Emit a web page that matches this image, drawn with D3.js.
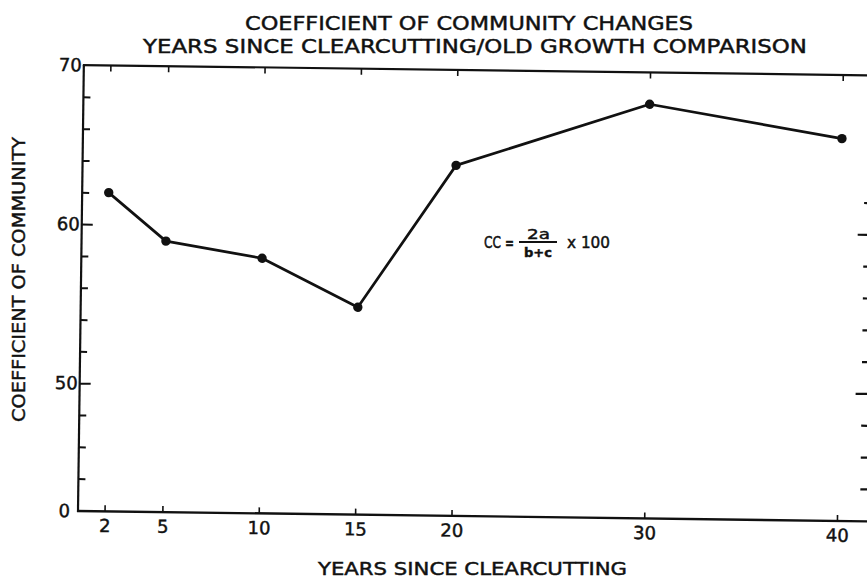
<!DOCTYPE html>
<html>
<head>
<meta charset="utf-8">
<script src="https://cdn.jsdelivr.net/npm/d3@7/dist/d3.min.js"></script>
<style>
  html, body { margin: 0; padding: 0; background: #fff; }
  svg { display: block; }
  text { font-family: "DejaVu Sans", sans-serif; fill: #111; stroke: #111; stroke-width: 0.45px; }
</style>
</head>
<body>
<svg id="chart" width="867" height="585"></svg>
<script>
// Coefficient of community by stand age
const years = [2, 5, 10, 15, 20, 30, 40];
const coefficient = [62, 59, 58, 55, 64, 68, 66];

// Axis ticks
const xTicks = [2, 5, 10, 15, 20, 30, 40];
const yTicks = [0, 44, 46, 48, 50, 52, 54, 56, 58, 60, 62, 64, 66, 68, 70];
const yLabelled = [0, 50, 60, 70];
const yMajor = [50, 60];
const rightTicks = [44, 46, 48, 50, 52, 54, 56, 58, 60, 62];

const titleLines = ["COEFFICIENT OF COMMUNITY CHANGES",
                    "YEARS SINCE CLEARCUTTING/OLD GROWTH COMPARISON"];
const xTitle = "YEARS SINCE CLEARCUTTING";
const yTitle = "COEFFICIENT OF COMMUNITY";

const ink = "#111";
const svg = d3.select("#chart");

// Plot frame geometry
const frameLeft = 78, frameBottom = 511, frameTop = 65, frameRightEnd = 880, rightAxisX = 869;

const x = d3.scaleLinear().domain([0, 40]).range([66, 837]);
// broken axis: 0 sits one tick below 44
const y = d3.scaleLinear().domain([0, 44, 70]).range([frameBottom, 478.6, frameTop]);

const plot = svg.append("g").attr("transform", `rotate(0.75, ${frameLeft}, ${frameBottom})`);

// frame lines
plot.append("line").attr("x1", frameLeft).attr("x2", frameLeft).attr("y1", frameBottom + 1).attr("y2", frameTop)
  .attr("stroke", ink).attr("stroke-width", 2.2);
plot.append("line").attr("x1", frameLeft - 1).attr("x2", frameRightEnd).attr("y1", frameBottom).attr("y2", frameBottom)
  .attr("stroke", ink).attr("stroke-width", 2.4);
plot.append("line").attr("x1", frameLeft - 1).attr("x2", frameRightEnd).attr("y1", frameTop).attr("y2", frameTop)
  .attr("stroke", ink).attr("stroke-width", 2.2);

// bottom axis: ticks point up into the plot
const xAxis = plot.append("g").attr("transform", `translate(0,${frameBottom})`)
  .call(d3.axisBottom(x).tickValues(xTicks).tickSize(-6).tickPadding(8));
xAxis.select(".domain").remove();
xAxis.selectAll("line").attr("stroke", ink).attr("stroke-width", 1.6);
xAxis.selectAll("text").style("font-size", "18px").style("font-family", "DejaVu Sans, sans-serif")
  .attr("fill", ink).attr("stroke", ink).attr("stroke-width", 0.45);

// top frame ticks point down
const xTop = plot.append("g").attr("transform", `translate(0,${frameTop})`)
  .call(d3.axisTop(x).tickValues(xTicks).tickSize(-6).tickFormat(""));
xTop.select(".domain").remove();
xTop.selectAll("line").attr("stroke", ink).attr("stroke-width", 1.6);

// left axis: ticks point right into the plot
const yAxis = plot.append("g").attr("transform", `translate(${frameLeft},0)`)
  .call(d3.axisLeft(y).tickValues(yTicks).tickSize(-7).tickPadding(3)
    .tickFormat(d => yLabelled.includes(d) ? String(d) : ""));
yAxis.select(".domain").remove();
yAxis.selectAll(".tick line")
  .attr("stroke", ink).attr("stroke-width", 2)
  .attr("x2", d => yMajor.includes(d) ? 11 : 7)
  .attr("display", d => (d === 0 || d === 70) ? "none" : null);
yAxis.selectAll(".tick text")
  .style("font-size", "18px").style("font-family", "DejaVu Sans, sans-serif")
  .attr("fill", ink).attr("stroke", ink).attr("stroke-width", 0.45)
  .attr("x", d => d === 0 ? -8 : -2);

// right axis ticks point left; the axis line itself runs just past the page edge
const yRight = plot.append("g").attr("transform", `translate(${rightAxisX},0)`)
  .call(d3.axisRight(y).tickValues(rightTicks).tickSize(-6).tickFormat(""));
yRight.select(".domain").remove();
yRight.selectAll(".tick line").attr("stroke", ink).attr("stroke-width", 2.2)
  .attr("x2", d => yMajor.includes(d) ? -15 : -9);

// data line and points
const pts = years.map((yr, i) => [yr, coefficient[i]]);
plot.append("path")
  .datum(pts)
  .attr("fill", "none").attr("stroke", ink).attr("stroke-width", 2.7)
  .attr("stroke-linejoin", "round")
  .attr("d", d3.line().x(d => x(d[0])).y(d => y(d[1])));
plot.selectAll("circle.pt").data(pts).join("circle")
  .attr("class", "pt")
  .attr("cx", d => x(d[0])).attr("cy", d => y(d[1])).attr("r", 4.7)
  .attr("fill", ink);

// titles
svg.append("text").attr("x", 245).attr("y", 30).attr("textLength", 448)
  .attr("lengthAdjust", "spacingAndGlyphs").style("font-size", "19px").text(titleLines[0]);
svg.append("text").attr("x", 143).attr("y", 53).attr("textLength", 664)
  .attr("lengthAdjust", "spacingAndGlyphs").style("font-size", "19px").text(titleLines[1]);

// axis titles
svg.append("text").attr("x", 318).attr("y", 575).attr("textLength", 309)
  .attr("lengthAdjust", "spacingAndGlyphs").style("font-size", "18px").text(xTitle);
svg.append("text").attr("transform", "translate(25,422) rotate(-90)")
  .attr("textLength", 285).attr("lengthAdjust", "spacingAndGlyphs")
  .style("font-size", "18px").text(yTitle);

// formula annotation
const f = svg.append("g");
f.append("text").attr("x", 484).attr("y", 248).attr("textLength", 17)
  .attr("lengthAdjust", "spacingAndGlyphs").style("font-size", "15px").text("CC");
f.append("text").attr("x", 505).attr("y", 248).attr("textLength", 9)
  .attr("lengthAdjust", "spacingAndGlyphs").style("font-size", "15px").style("font-weight", "bold").text("=");
f.append("line").attr("x1", 519).attr("x2", 557).attr("y1", 242).attr("y2", 242)
  .attr("stroke", ink).attr("stroke-width", 1.8);
f.append("text").attr("x", 538.5).attr("y", 238.5).attr("text-anchor", "middle")
  .attr("textLength", 23).attr("lengthAdjust", "spacingAndGlyphs")
  .style("font-size", "14px").text("2a");
f.append("text").attr("x", 538).attr("y", 257).attr("text-anchor", "middle")
  .attr("textLength", 28).attr("lengthAdjust", "spacingAndGlyphs")
  .style("font-size", "13px").style("font-weight", "bold").text("b+c");
f.append("text").attr("x", 567).attr("y", 248).attr("textLength", 43)
  .attr("lengthAdjust", "spacingAndGlyphs").style("font-size", "15px").text("x 100");
</script>
</body>
</html>
